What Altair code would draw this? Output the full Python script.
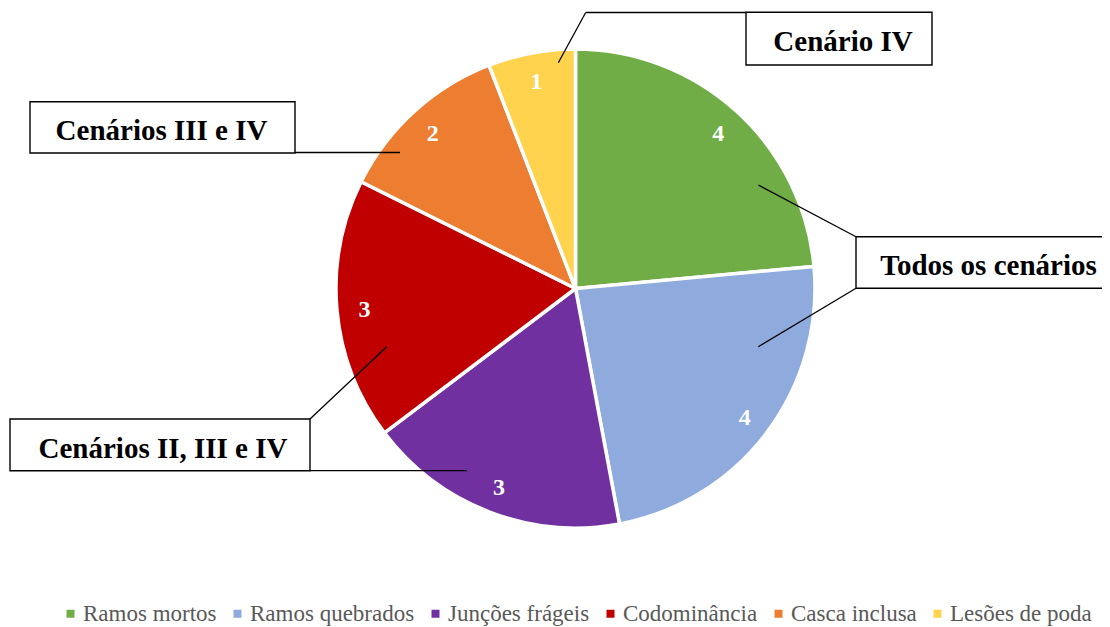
import altair as alt
import pandas as pd

# ---------------- data ----------------
categorias = ["Ramos mortos", "Ramos quebrados", "Junções frágeis",
              "Codominância", "Casca inclusa", "Lesões de poda"]
valores = [4, 4, 3, 3, 2, 1]
cores = ["#70AD47", "#8FAADC", "#7030A0", "#C00000", "#ED7D31", "#FFD34E"]

rotulos_caixas = ["Cenário IV", "Cenários III e IV",
                  "Todos os cenários", "Cenários II, III e IV"]

# ---------------- layout (pixels, chart coordinates) ----------------
OFF = 8
CX, CY = 575.5 - OFF, 288.5 - OFF
R_OUT = 239.5
R_LAB = 212

caixas_x1 = [746, 30, 856, 10]
caixas_x2 = [932, 295, 1115, 310]
caixas_y1 = [12.3, 101.7, 236.7, 419]
caixas_y2 = [65, 153, 288.3, 470.7]
caixas_tx = [843, 161.5, 988.5, 163]

seg_x1 = [558.3, 585.7, 295, 758.3, 758.3, 386.7, 310]
seg_y1 = [62.7, 12.5, 152.5, 185, 346.7, 346.7, 470.7]
seg_x2 = [585.7, 746, 400, 856, 856, 310, 466.7]
seg_y2 = [12.5, 12.5, 152.5, 236.7, 288.3, 419, 470.7]

df = pd.DataFrame({"categoria": categorias, "valor": valores,
                   "ordem": list(range(len(categorias)))})

df_box = pd.DataFrame({
    "rotulo": rotulos_caixas,
    "x1": [v - OFF for v in caixas_x1], "x2": [v - OFF for v in caixas_x2],
    "y1": [v - OFF for v in caixas_y1], "y2": [v - OFF for v in caixas_y2],
    "tx": [v - OFF for v in caixas_tx],
    "ty": [v - OFF + 38.5 for v in caixas_y1],
})

df_seg = pd.DataFrame({
    "x1": [v - OFF for v in seg_x1], "y1": [v - OFF for v in seg_y1],
    "x2": [v - OFF for v in seg_x2], "y2": [v - OFF for v in seg_y2],
})

theta = alt.Theta("valor:Q", stack=True)
order = alt.Order("ordem:Q")

pie = alt.Chart(df).mark_arc(radius=R_OUT, stroke="white", strokeWidth=3.5).encode(
    theta=theta,
    order=order,
    x=alt.value(CX),
    y=alt.value(CY),
    color=alt.Color(
        "categoria:N",
        scale=alt.Scale(domain=categorias, range=cores),
        sort=categorias,
        legend=alt.Legend(
            title=None, orient="none", legendX=51, legendY=594,
            direction="horizontal", symbolType="square", symbolSize=64,
            symbolStrokeWidth=0, symbolOpacity=1,
            labelFont="Liberation Serif", labelFontSize=23, labelLimit=400,
            labelColor="#595959", labelOffset=1, columnPadding=9, padding=0,
        ),
    ),
)

labels = alt.Chart(df).mark_text(
    radius=R_LAB, font="Liberation Serif", fontSize=24, fontWeight="bold",
    color="white", baseline="middle", align="center", dy=2,
).encode(
    theta=theta,
    order=order,
    x=alt.value(CX),
    y=alt.value(CY),
    text="valor:Q",
)

segs = alt.Chart(df_seg).mark_rule(color="black", strokeWidth=1.3).encode(
    x=alt.X("x1:Q", scale=None), y=alt.Y("y1:Q", scale=None),
    x2="x2:Q", y2="y2:Q",
)

boxes = alt.Chart(df_box).mark_rect(fill="white", stroke="black", strokeWidth=1.4).encode(
    x=alt.X("x1:Q", scale=None), y=alt.Y("y1:Q", scale=None),
    x2="x2:Q", y2="y2:Q",
)

box_text = alt.Chart(df_box).mark_text(
    font="Liberation Serif", fontSize=29, fontWeight="bold", color="black",
    align="center", baseline="alphabetic",
).encode(
    x=alt.X("tx:Q", scale=None), y=alt.Y("ty:Q", scale=None), text="rotulo:N",
)

chart = alt.layer(pie, labels, segs, boxes, box_text).properties(
    width=1094, height=619, padding=0,
    autosize=alt.AutoSizeParams(type="none"),
    background="white",
).configure_view(stroke=None)

chart.save("out.html", embed_options={"renderer": "svg", "actions": False})
